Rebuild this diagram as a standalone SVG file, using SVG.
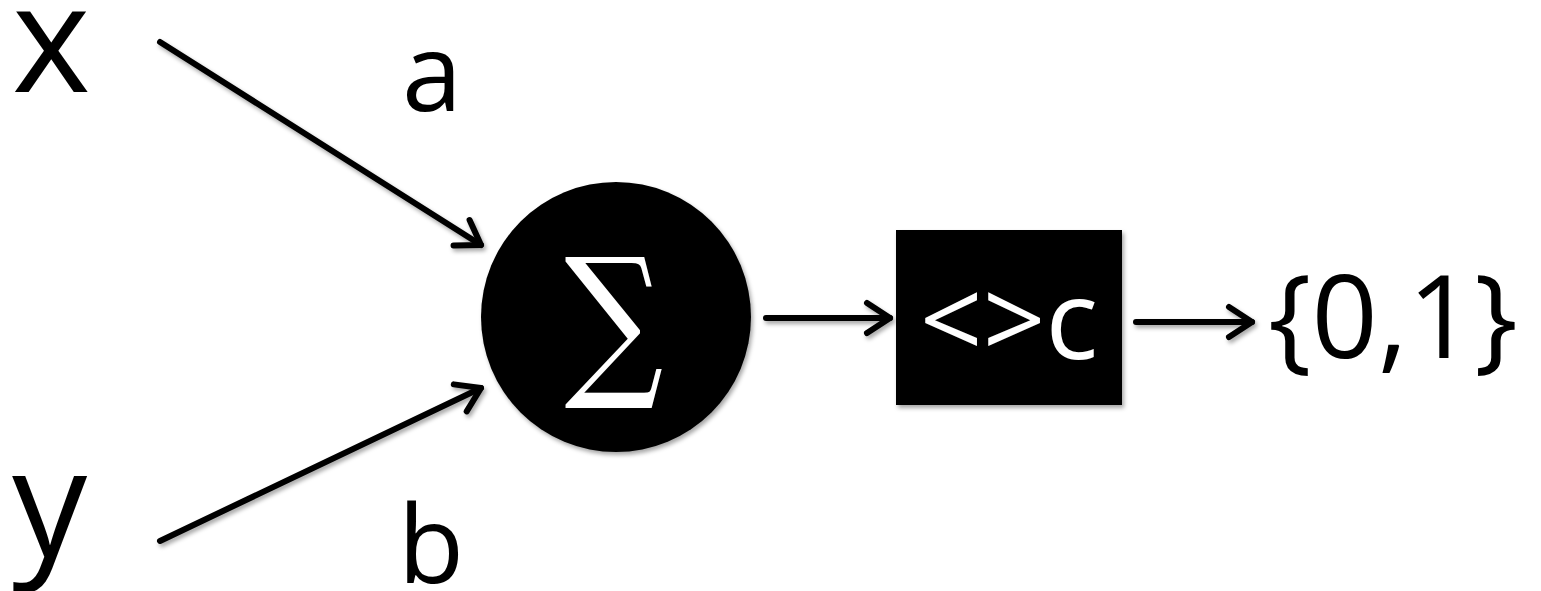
<svg xmlns="http://www.w3.org/2000/svg" width="1541" height="591" viewBox="0 0 1541 591">
<style>
.t{font-family:"Open Sans","Liberation Sans",sans-serif;fill:#000}
.c{stroke:#000;stroke-width:6;fill:none;stroke-linecap:round}
</style>
<defs>
<marker id="ah" markerUnits="userSpaceOnUse" markerWidth="40" markerHeight="40" refX="30" refY="20" orient="auto">
<path d="M7,5 L30,20 L7,35" fill="none" stroke="#000" stroke-width="6" stroke-linecap="round" stroke-linejoin="round"/>
</marker>
<filter id="sh" filterUnits="userSpaceOnUse" x="0" y="0" width="1541" height="591">
<feDropShadow dx="2" dy="3" stdDeviation="2" flood-opacity="0.35"/>
</filter>
</defs>
<rect width="1541" height="591" fill="#fff"/>
<g id="connectors" filter="url(#sh)">
<line class="c" x1="160" y1="42" x2="481" y2="245" marker-end="url(#ah)"/>
<line class="c" x1="160" y1="541" x2="481" y2="388" marker-end="url(#ah)"/>
<line class="c" x1="766" y1="318" x2="890" y2="318" marker-end="url(#ah)"/>
<line class="c" x1="1136" y1="322" x2="1252" y2="322" marker-end="url(#ah)"/>
</g>
<g id="node-x"><text class="t" x="12" y="92" font-size="150">x</text></g>
<g id="node-y"><text class="t" x="12" y="557" font-size="150">y</text></g>
<g id="label-a"><text class="t" x="402" y="111" font-size="108">a</text></g>
<g id="label-b"><text class="t" x="398" y="583" font-size="108">b</text></g>
<g id="node-sum">
<circle cx="616" cy="317" r="135" fill="#000" filter="url(#sh)"/>
<text x="0" y="376" font-family="'DejaVu Serif','Liberation Serif',serif" font-size="165" fill="#fff" text-anchor="middle" transform="translate(614 0) scale(0.84 1)">∑</text>
</g>
<g id="node-threshold">
<rect x="896" y="230" width="226" height="175" fill="#000" filter="url(#sh)"/>
<text class="t" x="1009" y="359" font-size="110" text-anchor="middle" style="fill:#fff">&lt;&gt;c</text>
</g>
<g id="node-output"><text class="t" x="1268" y="358" font-size="116">{0,1}</text></g>
</svg>
